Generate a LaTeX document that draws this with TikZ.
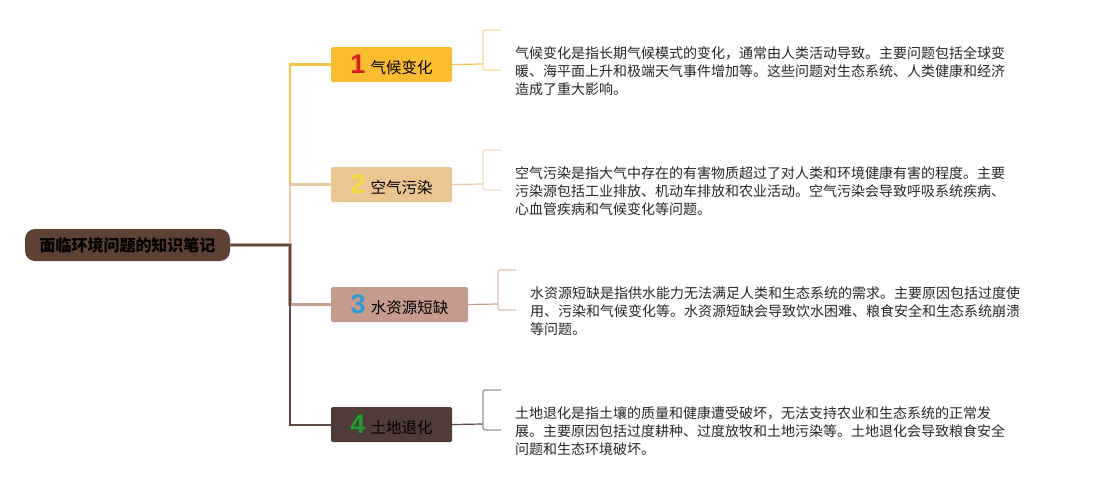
\documentclass[tikz,border=0pt]{standalone}
\usepackage{fontspec}
\setmainfont{Noto Sans CJK SC}
\newfontfamily\numfont{Liberation Sans}
\definecolor{rootc}{HTML}{5E4034}
\definecolor{b1}{HTML}{FABD2F}
\definecolor{b2}{HTML}{E9C592}
\definecolor{b3}{HTML}{C49B8C}
\definecolor{b4}{HTML}{4F3B38}
\definecolor{l1}{HTML}{F6C448}
\definecolor{l2}{HTML}{E8C9A0}
\definecolor{l3}{HTML}{C8A092}
\definecolor{l4}{HTML}{5E4844}
\definecolor{k1}{HTML}{F8D890}
\definecolor{k2}{HTML}{EEDCC4}
\definecolor{k3}{HTML}{D8C0B6}
\definecolor{k4}{HTML}{9A9292}
\definecolor{n1}{HTML}{D91E1E}
\definecolor{n2}{HTML}{F2DC3A}
\definecolor{n3}{HTML}{2F9AD6}
\definecolor{n4}{HTML}{1E9E2E}
\tikzset{
  rootbox/.style={fill=rootc, rounded corners=10pt, minimum width=205pt, minimum height=32pt, inner sep=0pt, font=\fontsize{16}{18}\selectfont\bfseries, text=black},
  topicbox/.style={rounded corners=1.5pt, minimum width=121pt, minimum height=35pt, inner sep=0pt, font=\fontsize{15.5}{17}\selectfont, text=black},
  desc/.style={anchor=north west, inner sep=0pt, align=left, font=\fontsize{14}{18}\selectfont, text=black!85},
  brk/.style={line width=1.2pt, rounded corners=2pt},
}
\newcommand{\dig}[2]{{\numfont\bfseries\fontsize{27}{27}\selectfont\color{#1}#2}\hspace{5pt}}
\begin{document}
\begin{tikzpicture}[x=1pt,y=-1pt]
\useasboundingbox (0,0) rectangle (1093,490);
% root
\node[rootbox] (root) at (127.5,245) {面临环境问题的知识笔记};
% topics
\node[topicbox, fill=b1] (t1) at (391.5,64.5) {\dig{n1}{1}气候变化};
\node[topicbox, fill=b2] (t2) at (391.5,184.5) {\dig{n2}{2}空气污染};
\node[topicbox, fill=b3, minimum width=137pt] (t3) at (399.5,304.5) {\dig{n3}{3}水资源短缺};
\node[topicbox, fill=b4] (t4) at (391.5,424.5) {\dig{n4}{4}土地退化};
% trunk connectors
\coordinate (j) at (290,245);
\draw[l1, line width=2.5pt] (root.east) -- (j) |- (t1.west);
\draw[l2, line width=2.5pt] (root.east) -- (j) |- (t2.west);
\draw[l3, line width=3.5pt] (root.east) -- (j) |- (t3.west);
\draw[l4, line width=2pt] (root.east) -- (j) |- (t4.west);
% brackets
\coordinate (c1) at (483,64); \coordinate (c2) at (483,184);
\coordinate (c3) at (498,304); \coordinate (c4) at (483,424);
\draw[l1, line width=1.2pt] (t1.east) -- (c1);
\draw[l2, line width=1.2pt] (t2.east) -- (c2);
\draw[l3, line width=1.2pt] (t3.east) -- (c3);
\draw[l4, line width=1.2pt] (t4.east) -- (c4);
\draw[brk, k1] (501,30) -- (483,30) -- (483,70) -- (501,70);
\draw[brk, k2] (501,150) -- (483,150) -- (483,190) -- (501,190);
\draw[brk, k3] (516,270) -- (498,270) -- (498,310) -- (516,310);
\draw[brk, k4] (501,390) -- (483,390) -- (483,430) -- (501,430);
% descriptions
\node[desc] (d1) at (515,46) {气候变化是指长期气候模式的变化，通常由人类活动导致。主要问题包括全球变\\暖、海平面上升和极端天气事件增加等。这些问题对生态系统、人类健康和经济\\造成了重大影响。};
\node[desc] (d2) at (515,166) {空气污染是指大气中存在的有害物质超过了对人类和环境健康有害的程度。主要\\污染源包括工业排放、机动车排放和农业活动。空气污染会导致呼吸系统疾病、\\心血管疾病和气候变化等问题。};
\node[desc] (d3) at (530,286) {水资源短缺是指供水能力无法满足人类和生态系统的需求。主要原因包括过度使\\用、污染和气候变化等。水资源短缺会导致饮水困难、粮食安全和生态系统崩溃\\等问题。};
\node[desc] (d4) at (515,406) {土地退化是指土壤的质量和健康遭受破坏，无法支持农业和生态系统的正常发\\展。主要原因包括过度耕种、过度放牧和土地污染等。土地退化会导致粮食安全\\问题和生态环境破坏。};
\end{tikzpicture}
\end{document}
